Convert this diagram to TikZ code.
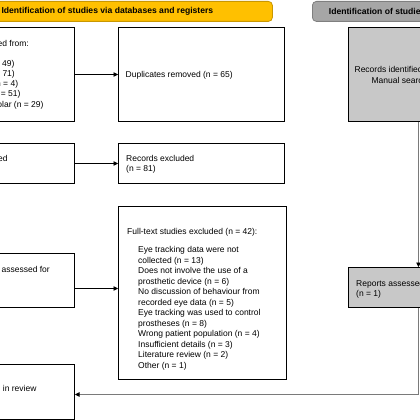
\documentclass[tikz,border=0pt]{standalone}
\usepackage{fontspec}
\setmainfont{Liberation Sans}
\usetikzlibrary{arrows.meta}
\definecolor{banY}{HTML}{FFC000}
\definecolor{banYd}{HTML}{C99700}
\definecolor{banG}{HTML}{A6A6A6}
\definecolor{banGd}{HTML}{7F7F7F}
\definecolor{boxG}{HTML}{C8C8C8}
\definecolor{lineG}{HTML}{7A7A7A}
\begin{document}
\begin{tikzpicture}[x=1pt,y=-1pt,
  box/.style={draw=black, line width=1pt, fill=white, inner sep=0pt, anchor=north west},
  gbox/.style={draw=black, line width=1pt, fill=boxG, inner sep=0pt, anchor=north west},
  banner/.style={rounded corners=4pt, line width=0.8pt, inner sep=0pt, anchor=north west, font=\fontsize{8.6}{10}\selectfont\bfseries},
  txt/.style={font=\fontsize{8.5}{10.3}\selectfont, inner sep=0pt},
  lw/.style={txt, anchor=base west},
  le/.style={txt, anchor=base east},
  lc/.style={txt, anchor=base},
  conn/.style={line width=0.6pt, -{Triangle[length=4.5pt,width=4.5pt]}},
  gconn/.style={line width=0.6pt, draw=lineG, -{Triangle[length=4.5pt,width=4.5pt,color=black]}},
]
\useasboundingbox (0,0) rectangle (420,420);
\fill[white] (0,0) rectangle (420,420);
\begin{scope}
\clip (0,0) rectangle (420,420);
% banners
\node[banner, draw=banYd, fill=banY, minimum width=330pt, minimum height=20pt] (bany) at (-58,1) {Identification of studies via databases and registers};
\node[banner, draw=banGd, fill=banG, minimum width=206pt, minimum height=20pt] (bang) at (312,1) {Identification of studies via other methods};
% column 1
\node[box, minimum width=140pt, minimum height=94pt] (ident) at (-66,27) {};
\node[box, minimum width=140pt, minimum height=40pt] (screen) at (-66,143) {};
\node[box, minimum width=140pt, minimum height=54pt] (assess) at (-66,253) {};
\node[box, minimum width=140pt, minimum height=55pt] (incl) at (-66,364) {};
% column 2
\node[box, minimum width=166pt, minimum height=94pt] (dup) at (118,27) {};
\node[box, minimum width=166pt, minimum height=40pt] (excl) at (118,143) {};
\node[box, minimum width=168pt, minimum height=173pt] (ftex) at (118,206) {};
% column 3
\node[gbox, minimum width=140pt, minimum height=94pt] (gid) at (348,27) {};
\node[gbox, minimum width=140pt, minimum height=40pt] (grep) at (348,267) {};
% texts column 1
\node[le] (t1) at (29,47) {Records identified from:};
\node[le] (t2) at (14.7,66.3) {PubMed (n = 49)};
\node[le] (t3) at (15,76.5) {Scopus (n = 71)};
\node[le] (t4) at (18.3,86.7) {IEEE Xplore (n = 4)};
\node[le] (t5) at (20.7,96.9) {Web of Science (n = 51)};
\node[le] (t6) at (43.7,107.1) {Google Scholar (n = 29)};
\node[le] (t7) at (7.7,161) {Records screened};
\node[le] (t8) at (50,272.5) {Full-text reports assessed for};
\node[le] (t9) at (36.7,391) {Studies included in review};
% texts column 2
\node[lw] (t10) at (125.5,77.5) {Duplicates removed (n = 65)};
\node[lw] (t11) at (126,161) {Records excluded};
\node[lw] (t12) at (126,171.5) {(n = 81)};
\node[lw] (t13) at (127,234) {Full-text studies excluded (n = 42):};
\node[txt, anchor=north west, align=left, font=\fontsize{8.5}{10.5}\selectfont] (t14) at (138,246.3) {Eye tracking data were not\\collected (n = 13)\\Does not involve the use of a\\prosthetic device (n = 6)\\No discussion of behaviour from\\recorded eye data (n = 5)\\Eye tracking was used to control\\prostheses (n = 8)\\Wrong patient population (n = 4)\\Insufficient details (n = 3)\\Literature review (n = 2)\\Other (n = 1)};
% texts column 3
\node[lc] (t15) at (399.5,73) {Records identified from:};
\node[lc] (t16) at (399.5,83) {Manual search};
\node[lw] (t17) at (356,286) {Reports assessed};
\node[lw] (t18) at (356,296) {(n = 1)};
% connectors
\draw[conn] (ident.east) -- (dup.west);
\draw[conn] (screen.east) -- (excl.west);
\coordinate (pa) at ([yshift=-8pt]assess.east);
\draw[conn] (pa) -- (pa -| ftex.west);
\draw[gconn] (gid.south) -- (grep.north);
\coordinate (pi) at ([yshift=-2.5pt]incl.east);
\draw[gconn] (grep.south) |- (pi);
\end{scope}
\end{tikzpicture}
\end{document}
